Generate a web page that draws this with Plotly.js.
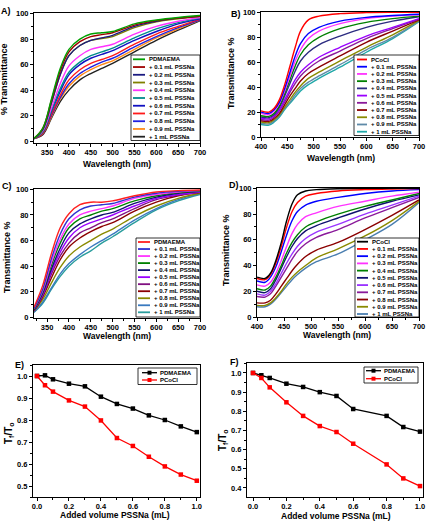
<!DOCTYPE html>
<html><head><meta charset="utf-8">
<script src="https://cdn.plot.ly/plotly-3.0.1.min.js"></script>
<style>html,body{margin:0;padding:0;background:#fff}#chart{width:429px;height:524px}</style>
</head><body><div id="chart"></div>
<script>
// ---------- DATA ----------
const wlAC = [320,340,360,380,400,425,450,475,500,550,600,650,700];
const wlBD = [400,415,425,435,445,455,465,475,490,510,550,600,650,700];

const labelsA = ['PDMAEMA','+ 0.1 mL PSSNa','+ 0.2 mL PSSNa','+ 0.3 mL PSSNa','+ 0.4 mL PSSNa','+ 0.5 mL PSSNa','+ 0.6 mL PSSNa','+ 0.7 mL PSSNa','+ 0.8 mL PSSNa','+ 0.9 mL PSSNa','+ 1 mL PSSNa'];
const labelsB = ['PCoCl','+ 0.1 mL PSSNa','+ 0.2 mL PSSNa','+ 0.3 mL PSSNa','+ 0.4 mL PSSNa','+ 0.5 mL PSSNa','+ 0.6 mL PSSNa','+ 0.7 mL PSSNa','+ 0.8 mL PSSNa','+ 0.9 mL PSSNa','+ 1 mL PSSNa'];
const labelsC = labelsA;
const labelsD = labelsB;

// Panel A (PDMAEMA, wlAC)
const A_00 = [2,10,33,57,72,80,84,85,86,92,95,97,98.5];
const A_01 = [2,10,32,55,70,78,82,83.5,85,91,94.5,96.5,98];
const A_02 = [2,9,30,52,67,75,79,81,83,90,94,96.5,98];
const A_03 = [2,9,30,52,67,75,79,80.5,82,89,93.5,96,98];
const A_04 = [2,8,26,45,59,67,72,74,76,84,90,94,97];
const A_05 = [2,7,24,41,54,62,67,70,73,81,88,93,96.5];
const A_06 = [2,7,23,39,52,60,65,68,71,79,86,92,96];
const A_07 = [2,6,21,36,48,56,61,64,67,76,84,90,95.5];
const A_08 = [2,6,20,34,45,53,58,62,65,74,82,89,95];
const A_09 = [2,6,19,33,43,51,56,60,63,72,81,88,95];
const A_10 = [2,5,18,31,40,48,53,57,61,70,79,87,94.5];

// Panel B (PCoCl, wlBD)
const B_00 = [21,20,23,30,42,57,72,85,94,97,99,99.8,100,100];
const B_01 = [20,19,22,28,39,52,65,75,83,88,93,96,97.5,98.5];
const B_02 = [19,18,21,27,37,49,61,70,79,85,91,95,97,98];
const B_03 = [17,16.5,19,25,35,46,57,66,74,80,87,92,95,97];
const B_04 = [16,15.5,18,24,33,43,53,61,68,74,81,88,93,96.5];
const B_05 = [15,14.5,17,22,30,38,46,52,58,64,72,81,88,95];
const B_06 = [14,13.5,16,21,28,36,43,49,55,61,69,79,87,94.5];
const B_07 = [13,12.5,15,19,26,33,39,45,51,56,65,76,85,94];
const B_08 = [12,11.5,14,18,24,30,36,41,47,52,61,72,82,93.5];
const B_09 = [11,10.5,13,17,23,28,34,39,44,49,58,70,80,93];
const B_10 = [10,9.5,12,16,22,27,32,37,42,47,56,68,79,92.5];

// Panel C (PDMAEMA, wlAC)
const C_00 = [8,25,50,70,81,88,90,90,91,95,98,99,99.5];
const C_01 = [7,22,46,65,77,84,87,88,89,94,97,98.5,99];
const C_02 = [7,21,43,61,73,80,83,85,87,93,96,98,99];
const C_03 = [6,20,41,58,70,77,80,83,85,91,95,97.5,98.5];
const C_04 = [6,19,38,54,66,73,77,80,82,89,94,97,98.5];
const C_05 = [6,18,36,51,62,70,74,77,80,87,93,96,98];
const C_06 = [5,17,34,48,58,66,70,74,77,85,92,95.5,98];
const C_07 = [5,16,31,45,55,62,67,71,74,83,90,95,97.5];
const C_08 = [5,14,27,39,48,55,60,65,69,79,87,93,97];
const C_09 = [4,12,23,34,42,49,55,60,65,76,85,92,96.5];
const C_10 = [4,11,22,32,40,47,52,58,63,74,84,91,96];

// Panel D (PCoCl, wlBD)
const D_00 = [31,30,34,44,58,75,88,95,98,99,99.7,100,100,100];
const D_01 = [30,29,33,42,55,70,82,89,94,96,98,99,99.5,99.8];
const D_02 = [28,27,31,39,51,64,75,82,87,90,93,96,98,99];
const D_03 = [25,24,27,34,44,55,65,72,78,81,86,90,94,97];
const D_04 = [22,21,24,31,40,50,58,64,70,74,80,86,91,96];
const D_05 = [20,19,22,29,38,47,55,61,67,71,77,84,90,95];
const D_06 = [18,17,20,26,34,42,49,55,61,66,72,80,87,94];
const D_07 = [16,15.5,18,24,31,38,45,51,57,62,68,77,85,93];
const D_08 = [11,11,13,18,24,30,36,41,47,52,58,68,79,91];
const D_09 = [9,9,11,15,20,26,31,35,40,46,53,63,75,90];
const D_10 = [8,8,10,14,19,24,29,33,38,43,49,60,72,89];

// Panel E
const volE = [0,0.05,0.1,0.2,0.3,0.4,0.5,0.6,0.7,0.8,0.9,1.0];
const E_PDMAEMA = [1.0,1.003,0.985,0.965,0.953,0.906,0.873,0.852,0.821,0.800,0.771,0.745];
const E_PCoCl = [1.0,0.958,0.929,0.889,0.861,0.798,0.718,0.682,0.633,0.589,0.552,0.524];
// Panel F
const volF = [0,0.05,0.1,0.2,0.3,0.4,0.5,0.6,0.8,0.9,1.0];
const F_PDMAEMA = [1.0,0.988,0.974,0.944,0.927,0.900,0.880,0.812,0.776,0.718,0.694];
const F_PCoCl = [1.0,0.974,0.925,0.847,0.776,0.723,0.692,0.631,0.523,0.450,0.410];
const labelsEF = ['PDMAEMA','PCoCl'];

// ---------- STYLE ----------
const colorsA = ['#00a000','#a00000','#1a1a80','#808000','#ff33ff','#008b8b','#1010c0','#ff1a1a','#2020e0','#ff8c1a','#222222'];
const colorsB = ['#ff0000','#0000ff','#ff33ff','#008000','#2b2b80','#9a00ff','#8a1a9a','#8b0000','#8a8a00','#5f8aa8','#20a8a8'];
const colorsC = ['#ff2020','#3030d0','#ff33ff','#008000','#101070','#9a00ff','#801080','#8b0000','#8a8a00','#3a7abf','#2a9d9d'];
const colorsD = ['#000000','#ff0000','#0000ff','#ff33ff','#008000','#101070','#9a33ff','#8a1a9a','#8b0000','#8a8a00','#4a7eb0'];
const colorsEF = ['#000000','#ff0000'];

const W = 429, H = 524;
const PX = x => x / W;
const PY = y => 1 - y / H;
const FONT = 'Liberation Sans, Arial, sans-serif';

const traces = [];
function addSpectra(n, wl, arrs, colors) {
  arrs.forEach((ys, i) => traces.push({
    type: 'scatter', mode: 'lines', x: wl, y: ys,
    xaxis: 'x' + n, yaxis: 'y' + n, showlegend: false, hoverinfo: 'skip',
    line: {color: colors[i], width: 1.4, shape: 'spline', smoothing: 1}
  }));
}
addSpectra('', wlAC, [A_00,A_01,A_02,A_03,A_04,A_05,A_06,A_07,A_08,A_09,A_10].reverse(), colorsA.slice().reverse());
addSpectra('2', wlBD, [B_00,B_01,B_02,B_03,B_04,B_05,B_06,B_07,B_08,B_09,B_10].reverse(), colorsB.slice().reverse());
addSpectra('3', wlAC, [C_00,C_01,C_02,C_03,C_04,C_05,C_06,C_07,C_08,C_09,C_10].reverse(), colorsC.slice().reverse());
addSpectra('4', wlBD, [D_00,D_01,D_02,D_03,D_04,D_05,D_06,D_07,D_08,D_09,D_10].reverse(), colorsD.slice().reverse());

function addRatio(n, xs, arrs) {
  arrs.forEach((ys, i) => traces.push({
    type: 'scatter', mode: 'lines+markers', x: xs, y: ys,
    xaxis: 'x' + n, yaxis: 'y' + n, showlegend: false,
    line: {color: colorsEF[i], width: 1.3},
    marker: {symbol: 'square', size: 4.5, color: colorsEF[i]}
  }));
}
addRatio('5', volE, [E_PDMAEMA, E_PCoCl]);
addRatio('6', volF, [F_PDMAEMA, F_PCoCl]);

const tickfont = {family: FONT, size: 7.5, color: '#000', weight: 'bold'};
function ax(dom, range, dtick, minor, fmt, isX) {
  const a = {
    domain: dom, range: range, dtick: dtick, tick0: 0,
    showline: true, linecolor: '#000', linewidth: 1, mirror: true,
    ticks: 'outside', ticklen: 3, tickwidth: 1, tickcolor: '#000',
    showgrid: false, zeroline: false, tickfont: tickfont, fixedrange: true
  };
  if (isX) a.ticklabelstandoff = -1;
  if (minor) a.minor = {dtick: minor, ticks: 'outside', ticklen: 2, tickcolor: '#000', showgrid: false};
  if (fmt) a.tickformat = fmt;
  return a;
}
function dx(l, r) { return [PX(l), PX(r)]; }
function dy(t, b) { return [PY(b), PY(t)]; }

const layout = {
  width: W, height: H, margin: {l: 0, r: 0, t: 0, b: 0},
  paper_bgcolor: '#fff', plot_bgcolor: '#fff', showlegend: false,
  font: {family: FONT, color: '#000'},
  xaxis:  Object.assign(ax(dx(34,200), [320,700], 50, 25, null, true), {anchor: 'y'}),
  yaxis:  Object.assign(ax(dy(13,143), [-1.5,100.5], 20, 10), {anchor: 'x'}),
  xaxis2: Object.assign(ax(dx(261,419), [400,700], 50, 25, null, true), {anchor: 'y2'}),
  yaxis2: Object.assign(ax(dy(12,137), [0,100.3], 20, 10), {anchor: 'x2'}),
  xaxis3: Object.assign(ax(dx(34,200), [320,700], 50, 25, null, true), {anchor: 'y3'}),
  yaxis3: Object.assign(ax(dy(189,318), [-0.5,100.3], 20, 10), {anchor: 'x3'}),
  xaxis4: Object.assign(ax(dx(257,419), [400,700], 50, 25, null, true), {anchor: 'y4'}),
  yaxis4: Object.assign(ax(dy(188,317), [0,100.3], 20, 10), {anchor: 'x4'}),
  xaxis5: Object.assign(ax(dx(33,200), [-0.025,1.02], 0.2, 0.1, '.1f', true), {anchor: 'y5'}),
  yaxis5: Object.assign(ax(dy(365,497), [0.45,1.05], 0.1, 0.05, '.1f'), {anchor: 'x5'}),
  xaxis6: Object.assign(ax(dx(247,423), [-0.036,1.018], 0.2, 0.1, '.1f', true), {anchor: 'y6'}),
  yaxis6: Object.assign(ax(dy(363,497), [0.353,1.052], 0.1, 0.05, '.1f'), {anchor: 'x6'}),
  shapes: [], annotations: []
};

function ann(text, x, y, size, opts) {
  layout.annotations.push(Object.assign({
    text: text, x: PX(x), y: PY(y), xref: 'paper', yref: 'paper',
    showarrow: false, xanchor: 'center', yanchor: 'middle', borderpad: 0,
    font: {family: FONT, size: size, color: '#000', weight: 'bold'}
  }, opts || {}));
}
// panel letters
ann('A)', 0, 10.5, 9, {xanchor: 'left'});
ann('B)', 230, 14, 9, {xanchor: 'left'});
ann('C)', 1, 186, 9, {xanchor: 'left'});
ann('D)', 228, 185, 9, {xanchor: 'left'});
ann('E)', 14, 365, 9, {xanchor: 'left'});
ann('F)', 229, 362, 9, {xanchor: 'left'});
// axis titles
ann('Wavelength (nm)', 117, 163.5, 8.5);
ann('% Transmittance', 4, 79, 9, {textangle: -90});
ann('Wavelength (nm)', 341, 158, 8.5);
ann('Transmittance %', 231, 73, 9, {textangle: -90});
ann('Wavelength (nm)', 117, 336, 8.5);
ann('Transmittance %', 7, 257, 9, {textangle: -90});
ann('Wavelength (nm)', 337, 335, 8.5);
ann('Transmittance %', 226, 250, 9, {textangle: -90});
ann('Added volume PSSNa (mL)', 115, 514.5, 8.5);
ann('T<sub>f</sub>/T<sub>o</sub>', 9, 433, 10, {textangle: -90});
ann('Added volume PSSNa (mL)', 336, 516, 8.5);
ann('T<sub>f</sub>/T<sub>o</sub>', 223, 440, 10, {textangle: -90});

// custom compact legends
function legend(box, first, step, keyX, textX, labels, colors, withMarker) {
  layout.shapes.push({type: 'rect', xref: 'paper', yref: 'paper', layer: 'above',
    x0: PX(box[0]), x1: PX(box[2]), y0: PY(box[3]), y1: PY(box[1]),
    line: {color: '#000', width: 0.8}, fillcolor: '#fff'});
  labels.forEach((lab, i) => {
    const y = first + i * step;
    layout.shapes.push({type: 'line', xref: 'paper', yref: 'paper', layer: 'above',
      x0: PX(keyX[0]), x1: PX(keyX[1]), y0: PY(y), y1: PY(y),
      line: {color: colors[i], width: withMarker ? 1.3 : 1.8}});
    if (withMarker) {
      const m = (keyX[0] + keyX[1]) / 2;
      layout.shapes.push({type: 'rect', xref: 'paper', yref: 'paper', layer: 'above',
        x0: PX(m - 2), x1: PX(m + 2), y0: PY(y + 2), y1: PY(y - 2),
        line: {width: 0}, fillcolor: colors[i]});
    }
    ann(lab, textX, y, 6, {xanchor: 'left'});
  });
}
legend([131,55,200,140.5], 59.3, 7.74, [133,145], 147.5, labelsA, colorsA, false);
legend([354,55,419,135.5], 59.5, 7.22, [357,367], 369.5, labelsB, colorsB, false);
legend([136,238,200,317], 242, 7.03, [138,150], 152.5, labelsC, colorsC, false);
legend([355,238,419,317], 241.7, 7.23, [357,368], 370.5, labelsD, colorsD, false);
legend([138,368,197,384.5], 372.7, 7.3, [142,157], 159, labelsEF, colorsEF, true);
legend([364,367,418,383], 370.7, 8, [366,381], 383, labelsEF, colorsEF, true);

Plotly.newPlot('chart', traces, layout, {staticPlot: true, displayModeBar: false});
</script>
</body></html>
